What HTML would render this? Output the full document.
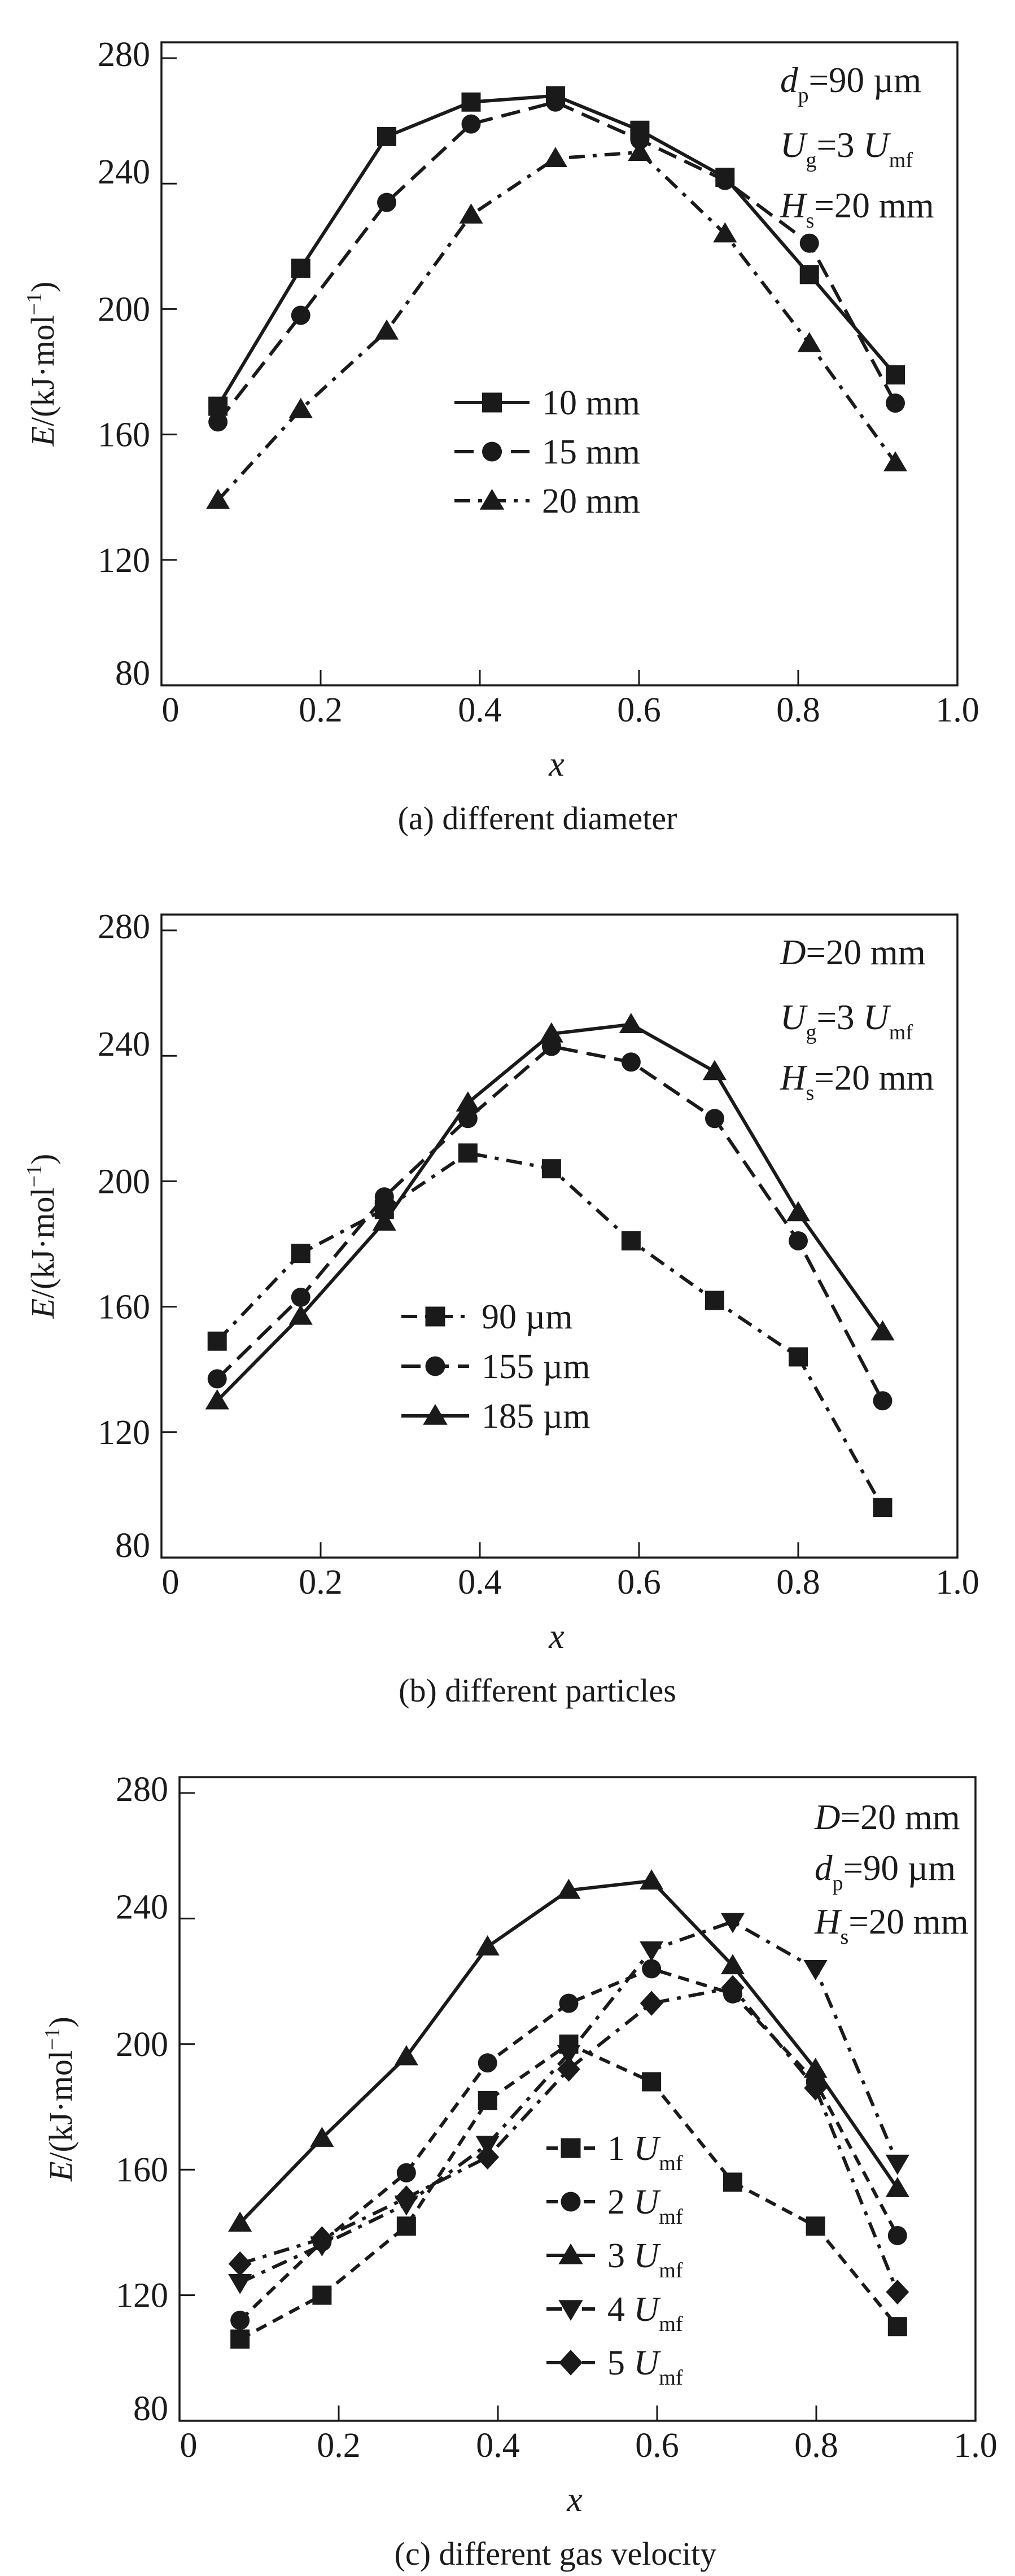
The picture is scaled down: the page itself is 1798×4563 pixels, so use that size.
<!DOCTYPE html>
<html><head><meta charset="utf-8"><style>
html,body{margin:0;padding:0;background:#fff;}
svg{display:block;font-family:"Liberation Serif",serif;}
</style></head><body>
<svg id="fig" width="1798" height="4563" viewBox="0 0 1798 4563" xmlns="http://www.w3.org/2000/svg">
<rect width="1798" height="4563" fill="#fff"/>
</svg>
<script>
// ---- shared axis ticks ----
const xTicks = [0, 0.2, 0.4, 0.6, 0.8, 1.0];
const xTickLabels = ["0", "0.2", "0.4", "0.6", "0.8", "1.0"];
const yTicks = [80, 120, 160, 200, 240, 280];
const yTickLabels = ["80", "120", "160", "200", "240", "280"];

// ---- panel (a) ----
const aX = [0.071, 0.175, 0.283, 0.389, 0.495, 0.601, 0.708, 0.814, 0.922];
const a10 = [169, 213, 255, 266, 268, 257, 242, 211, 179];
const a15 = [164, 198, 234, 259, 266, 254, 241, 221, 170];
const a20 = [139, 168, 193, 230, 248, 250, 224, 189, 151];
const aNames = ["10 mm", "15 mm", "20 mm"];

// ---- panel (b) ----
const bX = [0.07, 0.175, 0.28, 0.385, 0.49, 0.59, 0.695, 0.80, 0.906];
const b90 = [149, 177, 191, 209, 204, 181, 162, 144, 96];
const b155 = [137, 163, 195, 220, 243, 238, 220, 181, 130];
const b185 = [130, 157, 187, 225, 247, 250, 235, 190, 152];
const bNames = ["90 µm", "155 µm", "185 µm"];

// ---- panel (c) ----
const cX = [0.076, 0.179, 0.285, 0.387, 0.489, 0.593, 0.695, 0.799, 0.902];
const c1 = [106, 120, 142, 182, 200, 188, 156, 142, 110];
const c2 = [112, 137, 159, 194, 213, 224, 216, 188, 139];
const c3 = [143, 170, 196, 231, 249, 252, 225, 192, 154];
const c4 = [124, 136, 149, 168, 197, 230, 239, 224, 162];
const c5 = [130, 138, 151, 164, 192, 213, 218, 186, 121];
const cNames = ["1", "2", "3", "4", "5"];

const NS = "http://www.w3.org/2000/svg";
const svg = document.getElementById("fig");
function mk(tag, attrs, parent) {
  const e = document.createElementNS(NS, tag);
  for (const k in attrs) e.setAttribute(k, attrs[k]);
  (parent || svg).appendChild(e);
  return e;
}
const DASH = {solid: "none", dash: "34 16", dashdot: "28 14 7 14", short: "20 13"};

function marker(g, type, x, y, s) {
  let e;
  if (type === "square") e = mk("rect", {x: x - s/2, y: y - s/2, width: s, height: s, fill: "#1a1a1a"}, g);
  else if (type === "circle") e = mk("circle", {cx: x, cy: y, r: s/2, fill: "#1a1a1a"}, g);
  else if (type === "tri") e = mk("polygon", {points: `${x},${y - s*0.6} ${x - s*0.62},${y + s*0.45} ${x + s*0.62},${y + s*0.45}`, fill: "#1a1a1a"}, g);
  else if (type === "tridown") e = mk("polygon", {points: `${x},${y + s*0.6} ${x - s*0.62},${y - s*0.45} ${x + s*0.62},${y - s*0.45}`, fill: "#1a1a1a"}, g);
  else e = mk("polygon", {points: `${x},${y - s*0.65} ${x + s*0.6},${y} ${x},${y + s*0.65} ${x - s*0.6},${y}`, fill: "#1a1a1a"}, g);
  
  
  return e;
}

function drawPanel(P) {
  const g = mk("g", {});
  
  
  const L = P.left, T = P.top, B = P.bottom, W = 1410;
  const y280 = T + 28;
  const sx = v => L + v * W;
  const sy = v => B - (v - 80) * (B - y280) / 200;
  const frame = mk("rect", {x: L, y: T, width: W, height: B - T, fill: "none", stroke: "#1a1a1a", "stroke-width": 3.5}, g);
  
  
  const yOff = {80: -1, 120: 21, 160: 21, 200: 21, 240: 0, 280: 14};
  yTicks.forEach((v, i) => {
    if (v > 80) {
      const t = mk("line", {x1: L, x2: L + 27, y1: sy(v), y2: sy(v), stroke: "#1a1a1a", "stroke-width": 3}, g);
      
      
    }
    const tx = mk("text", {x: L - 20, y: sy(v) + yOff[v], "font-size": 62, "text-anchor": "end", fill: "#1a1a1a"}, g);
    tx.textContent = yTickLabels[i];
    
    
  });
  xTicks.forEach((v, i) => {
    if (v > 0 && v < 1) {
      const t = mk("line", {x1: sx(v), x2: sx(v), y1: B, y2: B - 27, stroke: "#1a1a1a", "stroke-width": 3}, g);
      
      
    }
    const tx = mk("text", {x: sx(v) + (v === 0 ? 16 : 0), y: B + 64, "font-size": 62, "text-anchor": "middle", fill: "#1a1a1a"}, g);
    tx.textContent = xTickLabels[i];
    
    
  });
  const xl = mk("text", {x: L + 700, y: B + 160, "font-size": 62, "font-style": "italic", "text-anchor": "middle", fill: "#1a1a1a"}, g);
  xl.textContent = "x";
  
  
  const cy = (T + B) / 2;
  const yl = mk("text", {x: 0, y: 0, "font-size": 58, "text-anchor": "middle", fill: "#1a1a1a", transform: `translate(${L - 191},${cy}) rotate(-90)`}, g);
  yl.innerHTML = '<tspan font-style="italic">E</tspan>/(kJ·mol<tspan dy="-22" font-size="38">−1</tspan><tspan dy="22">)</tspan>';
  
  
  const cap = mk("text", {x: L + 666, y: B + 255, "font-size": 58, "text-anchor": "middle", fill: "#1a1a1a"}, g);
  cap.textContent = P.caption;
  
  
  P.notes.forEach((h, i) => {
    const t = mk("text", {x: L + P.noteX, y: T + P.noteY[i], "font-size": 63, fill: "#1a1a1a"}, g);
    t.innerHTML = h;
    
    
  });
  P.series.forEach((s, k) => {
    const sg = mk("g", {}, g);
    
    
    const pts = P.xs.map((x, i) => `${sx(x)},${sy(s.vals[i])}`).join(" ");
    const pl = mk("polyline", {points: pts, fill: "none", stroke: "#1a1a1a", "stroke-width": 6, "stroke-dasharray": DASH[s.dash], "stroke-linejoin": "round"}, sg);
    
    
    P.xs.forEach((x, i) => marker(sg, s.marker, sx(x), sy(s.vals[i]), 34));
    const ly = T + P.legY + k * P.legStep;
    const lg = mk("g", {}, g);
    
    
    mk("line", {x1: L + P.legX, x2: L + P.legX + P.legW, y1: ly, y2: ly, stroke: "#1a1a1a", "stroke-width": 6, "stroke-dasharray": DASH[s.dash]}, lg);
    marker(lg, s.marker, L + P.legX + P.legW / 2, ly, 35);
    const lt = mk("text", {x: L + P.legX + P.legW + 22, y: ly + 21, "font-size": 62, fill: "#1a1a1a"}, lg);
    lt.innerHTML = s.label;
  });
}

const sub = (a, b) => `<tspan font-style="italic">${a}</tspan><tspan dy="18" font-size="38">${b}</tspan><tspan dy="-18">`;
drawPanel({
  id: "a", left: 286, top: 75, bottom: 1214, caption: "(a) different diameter",
  xs: aX, noteX: 1096, noteY: [88, 203, 310],
  notes: [sub("d", "p") + "=90 µm</tspan>", sub("U", "g") + "=3 </tspan>" + sub("U", "mf") + "</tspan>", sub("H", "s") + "=20 mm</tspan>"],
  legX: 519, legW: 133, legY: 638, legStep: 87,
  series: [
    {key: "10mm", vals: a10, dash: "solid", marker: "square", label: aNames[0]},
    {key: "15mm", vals: a15, dash: "dash", marker: "circle", label: aNames[1]},
    {key: "20mm", vals: a20, dash: "dashdot", marker: "tri", label: aNames[2]}
  ]
});
drawPanel({
  id: "b", left: 286, top: 1620, bottom: 2759, caption: "(b) different particles",
  xs: bX, noteX: 1096, noteY: [88, 203, 310],
  notes: ['<tspan font-style="italic">D</tspan>=20 mm', sub("U", "g") + "=3 </tspan>" + sub("U", "mf") + "</tspan>", sub("H", "s") + "=20 mm</tspan>"],
  legX: 425, legW: 120, legY: 712, legStep: 88,
  series: [
    {key: "90um", vals: b90, dash: "dashdot", marker: "square", label: bNames[0]},
    {key: "155um", vals: b155, dash: "dash", marker: "circle", label: bNames[1]},
    {key: "185um", vals: b185, dash: "solid", marker: "tri", label: bNames[2]}
  ]
});
const um = n => `${n} <tspan font-style="italic">U</tspan><tspan dy="18" font-size="38">mf</tspan>`;
drawPanel({
  id: "c", left: 318, top: 3148, bottom: 4288, caption: "(c) different gas velocity",
  xs: cX, noteX: 1125, noteY: [92, 182, 277],
  notes: ['<tspan font-style="italic">D</tspan>=20 mm', sub("d", "p") + "=90 µm</tspan>", sub("H", "s") + "=20 mm</tspan>"],
  legX: 650, legW: 86, legY: 657, legStep: 95,
  series: [
    {key: "1Umf", vals: c1, dash: "short", marker: "square", label: um(cNames[0])},
    {key: "2Umf", vals: c2, dash: "short", marker: "circle", label: um(cNames[1])},
    {key: "3Umf", vals: c3, dash: "solid", marker: "tri", label: um(cNames[2])},
    {key: "4Umf", vals: c4, dash: "dashdot", marker: "tridown", label: um(cNames[3])},
    {key: "5Umf", vals: c5, dash: "dashdot", marker: "diamond", label: um(cNames[4])}
  ]
});
</script>
</body></html>
